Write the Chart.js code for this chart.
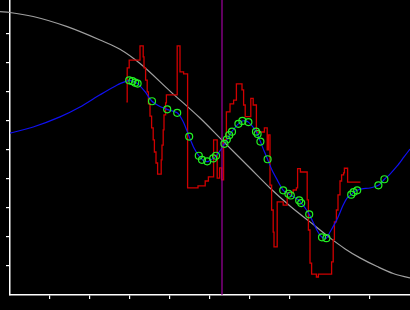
<!DOCTYPE html>
<html lang="en">
<head>
    <meta charset="UTF-8">
    <title>Fit chart</title>
    <script src="https://cdn.jsdelivr.net/npm/chart.js"></script>
    <style>
        html, body { margin: 0; padding: 0; background: #000; }
        canvas { display: block; }
    </style>
</head>
<body>
    <canvas id="fitChart" width="410" height="310"></canvas>
    <script>
        // axis setup
        const xMin = 0, xMax = 10;
        const yMin = 0, yMax = 10.17;
        const xTicks = [1, 2, 3, 4, 5, 6, 7, 8, 9];
        const yTicks = [1, 2, 3, 4, 5, 6, 7, 8, 9];
        const markerX = 5.3;

        // raw measurement (stepped)
        const rawX = [2.91, 2.93, 2.98, 3.25, 3.33, 3.35, 3.39, 3.43, 3.46, 3.5, 3.54, 3.58, 3.61, 3.65, 3.69,
            3.78, 3.8, 3.83, 3.85, 3.89, 3.91, 4.18, 4.25, 4.34, 4.44, 4.7, 4.88, 4.96, 5.09, 5.18, 5.24, 5.29,
            5.34, 5.41, 5.5, 5.59, 5.66, 5.8, 5.84, 5.88, 6.02, 6.08, 6.16, 6.36, 6.43, 6.46, 6.5, 6.54, 6.58,
            6.6, 6.68, 6.83, 6.93, 7.08, 7.16, 7.19, 7.26, 7.43, 7.46, 7.5, 7.54, 7.66, 7.71, 8.04, 8.08, 8.11,
            8.16, 8.2, 8.25, 8.29, 8.34, 8.36, 8.44, 8.76];
        const rawY = [6.66, 7.83, 8.1, 8.59, 8.21, 7.83, 7.41, 7.0, 6.59, 6.17, 5.76, 5.35, 4.93, 4.55, 4.17,
            4.66, 5.17, 5.69, 6.21, 6.62, 6.9, 8.59, 7.69, 7.62, 3.69, 3.76, 3.93, 4.07, 5.35, 4.03, 4.38, 3.97,
            5.35, 6.31, 6.59, 6.72, 7.28, 7.07, 6.55, 6.15, 6.78, 6.55, 5.62, 5.76, 5.0, 5.52, 3.79, 2.93, 2.17,
            1.66, 3.21, 3.1, 3.52, 3.62, 3.69, 4.36, 4.24, 3.28, 2.24, 1.1, 0.72, 0.62, 0.72, 1.14, 1.9, 2.52,
            2.93, 3.45, 3.93, 4.14, 4.21, 4.37, 3.89, 3.89];

        // smoothed fit
        const fitX = [0, 0.58, 1.25, 1.75, 2.25, 2.68, 2.93, 3.0, 3.13, 3.2, 3.38, 3.55, 3.75, 3.93, 4.18,
            4.33, 4.48, 4.6, 4.72, 4.83, 4.95, 5.08, 5.15, 5.25, 5.36, 5.43, 5.49, 5.55, 5.63, 5.71, 5.81, 5.88,
            5.96, 6.05, 6.15, 6.26, 6.35, 6.44, 6.55, 6.68, 6.83, 6.96, 7.03, 7.13, 7.23, 7.28, 7.38, 7.48, 7.6,
            7.7, 7.8, 7.91, 8.0, 8.17, 8.33, 8.43, 8.53, 8.6, 8.68, 8.8, 9.0, 9.21, 9.36, 9.5, 9.68, 9.85, 10.0];
        const fitY = [5.58, 5.79, 6.14, 6.48, 6.9, 7.24, 7.38, 7.4, 7.33, 7.28, 7.0, 6.68, 6.5, 6.4, 6.28,
            5.97, 5.46, 5.07, 4.8, 4.64, 4.6, 4.71, 4.79, 4.97, 5.21, 5.36, 5.52, 5.64, 5.78, 5.9, 6.0, 6.0,
            5.96, 5.83, 5.64, 5.29, 4.97, 4.68, 4.31, 3.97, 3.61, 3.49, 3.43, 3.35, 3.26, 3.17, 3.0, 2.78, 2.45,
            2.17, 1.99, 1.96, 2.17, 2.59, 3.1, 3.35, 3.46, 3.55, 3.61, 3.66, 3.69, 3.78, 3.99, 4.17, 4.45, 4.76, 5.03];

        // selected samples
        const sampleX = [2.98, 3.06, 3.13, 3.19, 3.55, 3.93, 4.18, 4.48, 4.72, 4.8, 4.93, 5.08, 5.15, 5.36,
            5.42, 5.48, 5.55, 5.71, 5.81, 5.96, 6.15, 6.19, 6.26, 6.44, 6.83, 6.96, 7.02, 7.23, 7.28, 7.48,
            7.8, 7.91, 8.53, 8.59, 8.68, 9.21, 9.36];
        const sampleY = [7.4, 7.37, 7.32, 7.29, 6.68, 6.4, 6.28, 5.46, 4.8, 4.66, 4.61, 4.71, 4.8, 5.21,
            5.36, 5.51, 5.63, 5.9, 6.0, 5.96, 5.63, 5.55, 5.29, 4.68, 3.61, 3.49, 3.43, 3.26, 3.17, 2.78,
            1.99, 1.96, 3.46, 3.55, 3.61, 3.78, 3.99];

        // reference model
        const modelX = [-0.25, 0, 0.58, 1.43, 2.25, 2.75, 3.25, 4.0, 4.75, 5.3, 6.0, 6.5, 7.0, 7.5, 8.0,
            8.38, 8.75, 9.18, 9.58, 10.0];
        const modelY = [9.77, 9.74, 9.6, 9.25, 8.79, 8.47, 7.98, 7.03, 6.1, 5.34, 4.38, 3.69, 3.07, 2.52,
            1.97, 1.59, 1.28, 0.98, 0.74, 0.59];

        function zip(xs, ys) {
            return xs.map((x, i) => ({ x: x, y: ys[i] }));
        }

        const ctx = document.getElementById('fitChart').getContext('2d');
        new Chart(ctx, {
            type: 'line',
            data: {
                datasets: [
                    {
                        label: 'samples',
                        data: zip(sampleX, sampleY),
                        showLine: false,
                        pointRadius: 3.5,
                        pointBorderWidth: 1.2,
                        pointBorderColor: '#22f022',
                        pointBackgroundColor: 'rgba(0,0,0,0)'
                    },
                    {
                        label: 'marker',
                        data: [{ x: markerX, y: yMin }, { x: markerX, y: yMax }],
                        borderColor: '#a000a0',
                        borderWidth: 1.2,
                        pointRadius: 0
                    },
                    {
                        label: 'fit',
                        data: zip(fitX, fitY),
                        borderColor: '#1010f0',
                        borderWidth: 1.2,
                        pointRadius: 0,
                        tension: 0.25
                    },
                    {
                        label: 'raw',
                        data: zip(rawX, rawY),
                        borderColor: '#d00000',
                        borderWidth: 1.3,
                        pointRadius: 0,
                        stepped: true
                    },
                    {
                        label: 'model',
                        data: zip(modelX, modelY),
                        borderColor: '#a0a0a0',
                        borderWidth: 1.2,
                        pointRadius: 0,
                        cubicInterpolationMode: 'monotone',
                        clip: false
                    }
                ]
            },
            options: {
                responsive: false,
                animation: false,
                layout: { autoPadding: false, padding: { left: 6, right: 0, top: 0, bottom: 11 } },
                plugins: { legend: { display: false }, tooltip: { enabled: false } },
                scales: {
                    x: {
                        type: 'linear',
                        min: xMin,
                        max: xMax,
                        afterBuildTicks: s => { s.ticks = xTicks.map(v => ({ value: v })); },
                        ticks: { display: false },
                        grid: { drawOnChartArea: false, color: '#fff', tickLength: 4, lineWidth: 1.2 },
                        border: { color: '#fff', width: 1.5 }
                    },
                    y: {
                        type: 'linear',
                        min: yMin,
                        max: yMax,
                        afterBuildTicks: s => { s.ticks = yTicks.map(v => ({ value: v })); },
                        ticks: { display: false },
                        grid: { drawOnChartArea: false, color: '#fff', tickLength: 4, lineWidth: 1.2 },
                        border: { color: '#fff', width: 1.5 }
                    }
                }
            }
        });
    </script>
</body>
</html>
